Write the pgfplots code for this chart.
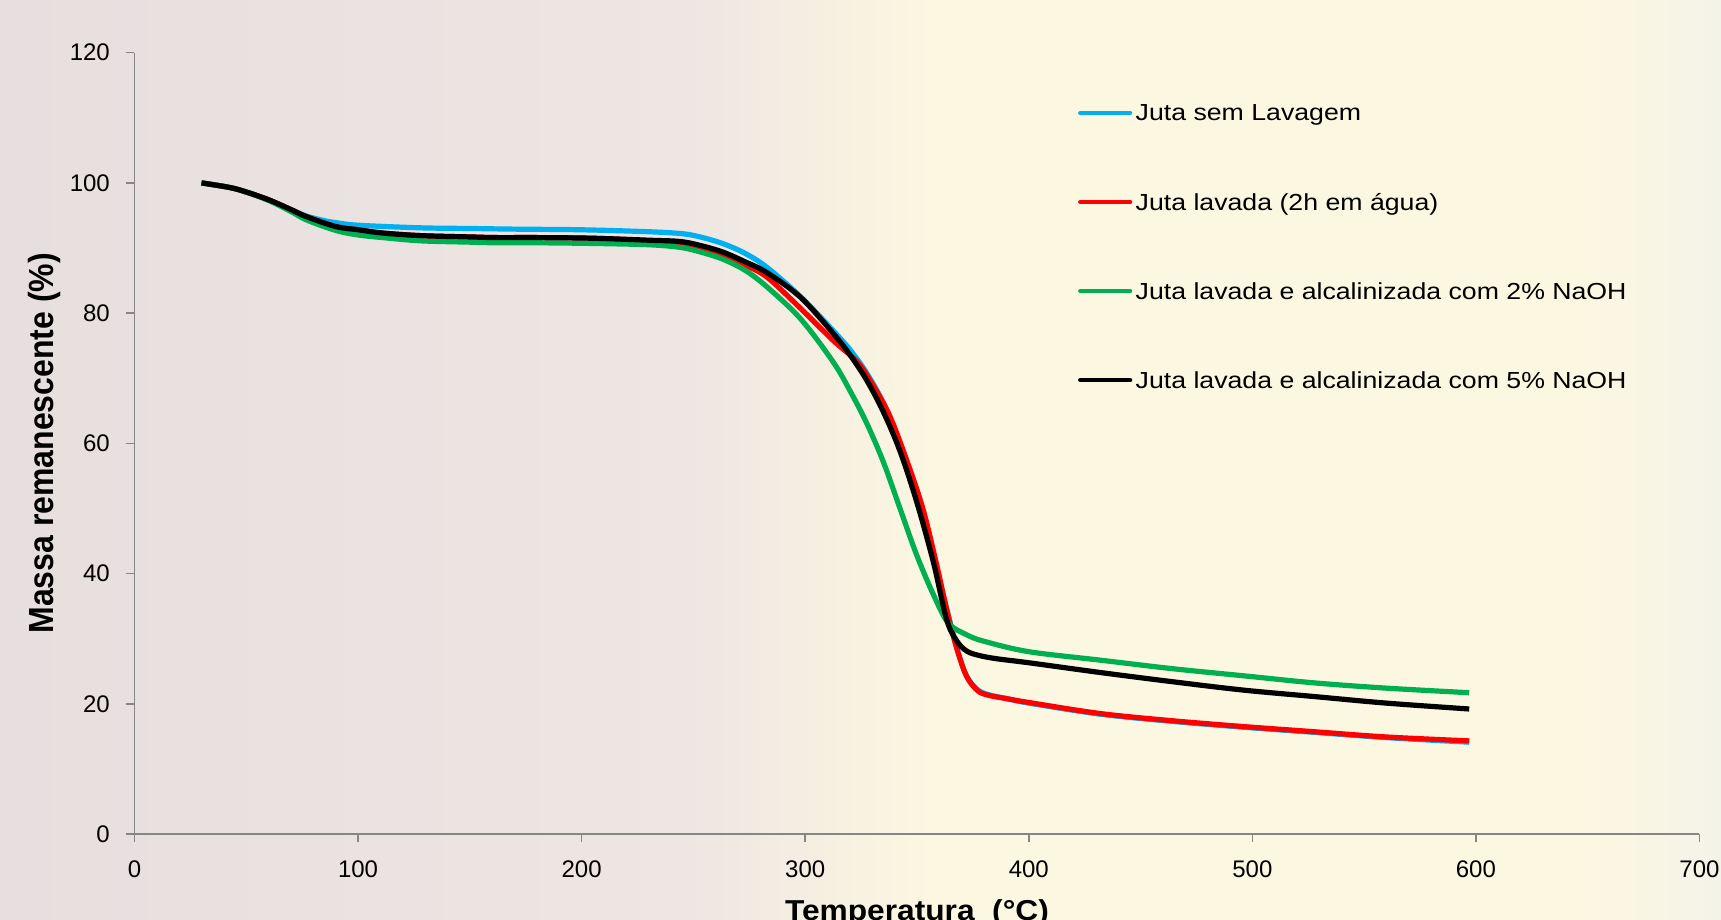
\documentclass[border=0pt]{standalone}
\usepackage{fontspec}
\setmainfont{Liberation Sans}
\usepackage{graphicx}
\usepackage{pgfplots}
\pgfplotsset{compat=1.18}
\definecolor{cblue}{HTML}{00B0F0}
\definecolor{cred}{HTML}{FF0000}
\definecolor{cgreen}{HTML}{00B050}
\definecolor{axgray}{HTML}{868686}
\definecolor{bgA}{HTML}{E7DFDF}
\definecolor{bgA2}{HTML}{EDE6E2}
\definecolor{bgB}{HTML}{FCF7E1}
\definecolor{bgC}{HTML}{F4F3E8}
\pgfdeclarehorizontalshading{bgsh}{100bp}{color(0bp)=(bgA); color(25bp)=(bgA); color(45bp)=(bgA2); color(52bp)=(bgB); color(71bp)=(bgB); color(75bp)=(bgC); color(100bp)=(bgC)}
\newcommand\lstr{\rule[-3pt]{0pt}{13pt}}
\newcommand\lent[1]{\lstr\hspace{1.7pt}\scalebox{1.15}[1]{#1}}

\pgfplotstableread{
x y
30 100.0
42.5 99.3
50 98.6
60 97.4
70 95.9
77 94.9
85 94.2
90 93.9
100 93.5
128 93.1
150 93.0
170 92.9
200 92.8
230 92.5
245 92.2
253 91.7
263 90.7
273 89.2
283 87.0
298 82.5
312 77.5
320 74.4
327.5 70.8
335 66.2
342 60.3
350 52.2
357 43.2
363 35.0
367.7 28.8
372 24.4
377 22.2
382 21.4
390 20.8
400 20.1
432 18.4
464 17.3
496 16.4
528 15.6
560 14.8
597 14.1
}\tblue

\pgfplotstableread{
x y
30 100.0
42.5 99.3
50 98.6
60 97.4
70 95.9
77 94.8
90 93.3
100 92.8
111 92.3
128 91.9
150 91.7
162 91.6
180 91.6
205 91.5
230 91.1
244 90.7
253 90.1
263 89.0
273 87.4
283 85.5
298 80.7
312.5 75.8
323.3 72.5
330.7 68.7
337.7 64.3
345.1 57.7
352.6 50.0
358.5 41.8
363.2 34.6
367.7 28.6
372.2 24.2
377.2 22.0
382 21.3
390 20.8
400 20.2
432 18.5
464 17.4
496 16.5
528 15.7
560 14.9
597 14.3
}\tred

\pgfplotstableread{
x y
30 100.0
42.5 99.3
50 98.6
60 97.3
70 95.6
77 94.3
90 92.7
100 92.0
111 91.6
128 91.1
150 90.9
162 90.8
180 90.8
205 90.7
230 90.5
244 90.1
253 89.4
263 88.3
273 86.6
283 84.0
298 79.1
312.5 72.5
320 68.1
327.5 63.1
335 57.1
342.4 50.0
349.8 42.9
357.3 36.8
364 32.4
372.2 30.6
380 29.6
400 28.0
432 26.7
464 25.4
496 24.3
528 23.2
560 22.4
597 21.7
}\tgreen

\pgfplotstableread{
x y
30 100.0
42.5 99.3
50 98.6
60 97.4
70 95.9
77 94.8
90 93.3
100 92.8
111 92.3
128 91.9
150 91.7
162 91.6
180 91.6
205 91.5
230 91.2
244 91.0
253 90.4
263 89.4
273 87.9
283 86.2
298 82.4
312.5 76.9
320 73.6
327.5 69.7
335 64.8
342.4 58.8
349.8 51.1
357.3 41.8
363.2 33.0
367.7 29.7
372.2 28.1
378 27.4
386 26.9
400 26.3
432 24.8
464 23.4
496 22.1
528 21.1
560 20.1
597 19.2
}\tblack

\begin{document}
\begin{tikzpicture}
\shade[shading=bgsh] (-67.25pt,-43pt) rectangle (793.25pt,417pt);
\path[use as bounding box] (-67.25pt,-43pt) rectangle (793.25pt,417pt);
\begin{axis}[
  scale only axis, width=782.5pt, height=390.65pt,
  at={(0pt,0pt)}, anchor=south west,
  xmin=0, xmax=700, ymin=0, ymax=120,
  xtick={0,100,...,700}, ytick={0,20,...,120},
  axis x line*=bottom, axis y line*=left,
  axis line style={draw=axgray, line width=0.75pt},
  every tick/.style={draw=axgray, line width=0.75pt},
  tick align=outside, major tick length=4pt,
  /pgf/number format/assume math mode=true,
  tick label style={font=\fontsize{12}{14}\selectfont, inner sep=0pt},
  xticklabel style={anchor=north, yshift=-9pt},
  yticklabel style={anchor=east, xshift=-8.15pt},
  every axis y label/.style={at={(axis description cs:-0.0517,0.5)}, anchor=base, rotate=90, font=\bfseries\fontsize{16}{19}\selectfont, inner sep=0pt},
  every axis x label/.style={at={(axis description cs:0.5,-0.1101)}, anchor=base, font=\bfseries\fontsize{14.4}{17}\selectfont, inner sep=0pt},
  xlabel={\scalebox{1.1}[1]{Temperatura\ \ (°C)}},
  ylabel={\scalebox{1}[1.09]{Massa remanescente (\%)}},
  legend style={at={(axis description cs:0.6027,0.9387)}, anchor=north west, draw=none, fill=none, inner sep=0pt, font=\fontsize{11.6}{14}\selectfont, row sep=33.05pt, nodes={inner sep=0pt}},
  legend cell align=left,
  legend image code/.code={\draw[#1, line width=2.3pt, line cap=round] (1.2pt,-0.2pt) -- (26pt,-0.2pt);},
  every axis plot/.append style={line width=2.6pt, smooth, tension=0.55, line join=round},
]
\addplot[cblue] table[x=x,y=y] {\tblue};
\addlegendentry{\lent{Juta sem Lavagem}}
\addplot[cred] table[x=x,y=y] {\tred};
\addlegendentry{\lent{Juta lavada (2h em água)}}
\addplot[cgreen] table[x=x,y=y] {\tgreen};
\addlegendentry{\lent{Juta lavada e alcalinizada com 2\% NaOH}}
\addplot[black] table[x=x,y=y] {\tblack};
\addlegendentry{\lent{Juta lavada e alcalinizada com 5\% NaOH}}
\end{axis}
\end{tikzpicture}
\end{document}
